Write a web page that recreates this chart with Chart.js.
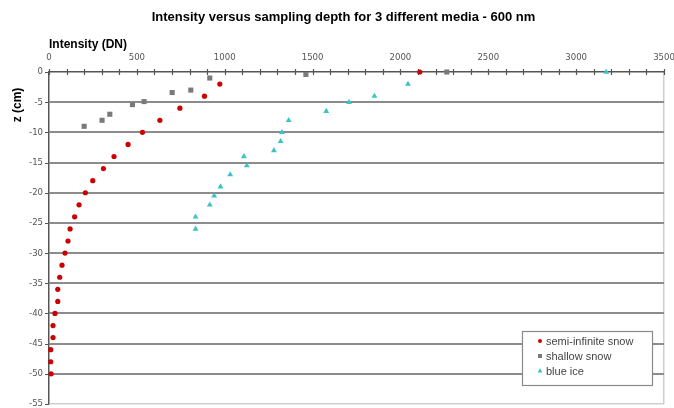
<!DOCTYPE html>
<html>
<head>
<meta charset="utf-8">
<script src="https://cdn.jsdelivr.net/npm/chart.js@4/dist/chart.umd.min.js"></script>
<style>
  html, body { margin: 0; padding: 0; background: #ffffff; }
  #wrap { width: 674px; height: 408px; position: relative; }
</style>
</head>
<body>
<div id="wrap"><canvas id="chart" width="674" height="408"></canvas></div>
<script>
// Sampling depth z (cm) and measured intensity (DN) for each medium
const depthSemiInfinite = [0, -2, -4, -6, -8, -10, -12, -14, -16, -18, -20, -22, -24, -26, -28, -30, -32, -34, -36, -38, -40, -42, -44, -46, -48, -50];
const intensitySemiInfinite = [2110, 972, 885, 745, 631, 532, 450, 370, 310, 249, 207, 171, 146, 120, 108, 91, 74, 61, 50, 50, 34, 23, 23, 10, 10, 12];

const depthShallow = [0, -0.4, -1, -3, -3.4, -4.9, -5.4, -7, -8, -9];
const intensityShallow = [2264, 1462, 915, 807, 701, 541, 475, 346, 302, 200];

const depthIce = [0, -2, -4, -5, -6.5, -8, -10, -11.5, -13, -14, -15.5, -17, -19, -20.5, -22, -24, -26];
const intensityIce = [3171, 2043, 1852, 1707, 1578, 1364, 1326, 1318, 1280, 1109, 1126, 1031, 976, 940, 915, 834, 834];

const seriesNames = ['semi-infinite snow', 'shallow snow', 'blue ice'];
const chartTitle = 'Intensity versus sampling depth for 3 different media - 600 nm';
const xTitle = 'Intensity (DN)';
const yTitle = 'z (cm)';

// axis ranges and tick steps
const xMin = 0, xMax = 3500, xMajorStep = 500, xMinorStep = 100;
const yMin = -55, yMax = 0, yStep = 5;

function pairs(xs, ys) {
  return xs.map((x, i) => ({ x: x, y: ys[i] }));
}

const tickFont = { family: "'Liberation Sans Narrow', 'DejaVu Sans Condensed', 'Liberation Sans', Arial, sans-serif", size: 9.5 };

// Title, rotated y-axis title, axis tick marks and the boxed legend
const decorations = {
  id: 'decorations',
  beforeDatasetsDraw(chart) {
    const ctx = chart.ctx;
    const xs = chart.scales.x, ys = chart.scales.y;
    const y0 = ys.getPixelForValue(0);
    const x0 = xs.getPixelForValue(0);
    ctx.save();
    ctx.strokeStyle = '#555555';
    ctx.lineWidth = 1.2;
    ctx.beginPath();
    for (let v = xMin; v <= xMax; v += xMinorStep) {
      const px = Math.round(xs.getPixelForValue(v)) + 0.5;
      ctx.moveTo(px, y0 - 3);
      ctx.lineTo(px, y0 + 3);
    }
    for (let v = yMax; v >= yMin; v -= yStep) {
      const py = Math.round(ys.getPixelForValue(v)) + 0.5;
      ctx.moveTo(x0 - 4, py);
      ctx.lineTo(x0, py);
    }
    ctx.stroke();
    ctx.restore();
  },
  afterDatasetsDraw(chart) {
    const ctx = chart.ctx;
    const area = chart.chartArea;
    ctx.save();
    // chart title
    ctx.fillStyle = '#000000';
    ctx.font = "bold 13px 'Liberation Sans', Arial, sans-serif";
    ctx.textAlign = 'center';
    ctx.textBaseline = 'middle';
    ctx.fillText(chartTitle, 343.5, 17);
    // y-axis title
    ctx.save();
    ctx.translate(18, 105);
    ctx.rotate(-Math.PI / 2);
    ctx.font = "bold 12px 'Liberation Sans', Arial, sans-serif";
    ctx.fillText(yTitle, 0, 0);
    ctx.restore();

    // legend
    const lx = area.right - 142, ly = area.bottom - 73, lw = 130, lh = 54;
    ctx.fillStyle = '#ffffff';
    ctx.fillRect(lx, ly, lw, lh);
    ctx.strokeStyle = '#8a8a8a';
    ctx.lineWidth = 1.2;
    ctx.strokeRect(lx + 0.5, ly + 0.5, lw, lh);
    ctx.font = "11px 'Liberation Sans', Arial, sans-serif";
    ctx.textAlign = 'left';
    chart.data.datasets.forEach((ds, i) => {
      const ry = ly + 10 + i * 15;
      ctx.fillStyle = ds.backgroundColor;
      Chart.helpers.drawPoint(ctx, { pointStyle: ds.pointStyle, radius: ds.pointStyle === 'circle' ? 2 : 2.8, rotation: 0, borderWidth: 0 }, lx + 18, ry);
      ctx.fillStyle = '#444444';
      ctx.fillText(ds.label, lx + 24, ry + 1);
    });
    ctx.restore();
  }
};

new Chart(document.getElementById('chart'), {
  type: 'scatter',
  data: {
    datasets: [
      {
        label: seriesNames[0],
        data: pairs(intensitySemiInfinite, depthSemiInfinite),
        pointStyle: 'circle',
        pointRadius: 2.6,
        backgroundColor: '#cc0000',
        borderColor: '#cc0000',
        borderWidth: 0,
        clip: false
      },
      {
        label: seriesNames[1],
        data: pairs(intensityShallow, depthShallow),
        pointStyle: 'rect',
        pointRadius: 3.6,
        backgroundColor: '#7a7a7a',
        borderColor: '#7a7a7a',
        borderWidth: 0,
        clip: false
      },
      {
        label: seriesNames[2],
        data: pairs(intensityIce, depthIce),
        pointStyle: 'triangle',
        pointRadius: 3.4,
        backgroundColor: '#3cc3c3',
        borderColor: '#3cc3c3',
        borderWidth: 0,
        clip: false
      }
    ]
  },
  options: {
    responsive: false,
    animation: false,
    layout: { padding: { top: 37, left: 0, right: 10, bottom: 3 } },
    plugins: {
      legend: { display: false },
      title: { display: false },
      tooltip: { enabled: false }
    },
    scales: {
      x: {
        type: 'linear',
        position: 'top',
        min: xMin,
        max: xMax,
        ticks: {
          stepSize: xMajorStep,
          font: tickFont,
          color: '#555555',
          padding: 9,
          maxRotation: 0,
          callback: (v) => String(v)
        },
        grid: {
          drawTicks: false,
          color: (c) => (c.tick && c.tick.value === xMax ? '#cfcfcf' : 'rgba(0,0,0,0)'),
          lineWidth: 1.5
        },
        border: { display: true, color: '#555555', width: 1.5 },
        title: {
          display: true,
          text: xTitle,
          align: 'start',
          color: '#000000',
          font: { family: "'Liberation Sans', Arial, sans-serif", size: 12, weight: 'bold' },
          padding: { top: 0, bottom: 0 }
        },
        afterFit(scale) {
          scale.height = 35;
          scale.paddingLeft = 0;
          scale.paddingRight = 0;
        }
      },
      y: {
        type: 'linear',
        min: yMin,
        max: yMax,
        ticks: {
          stepSize: yStep,
          font: tickFont,
          color: '#555555',
          padding: 6,
          callback: (v) => String(v)
        },
        grid: {
          drawTicks: false,
          color: (c) => {
            if (!c.tick) return 'rgba(0,0,0,0)';
            if (c.tick.value === yMax) return 'rgba(0,0,0,0)';
            if (c.tick.value === yMin) return '#cfcfcf';
            return '#8c8c8c';
          },
          lineWidth: (c) => (c.tick && c.tick.value === yMin ? 1.5 : 2)
        },
        border: { display: true, color: '#555555', width: 1.5 },
        afterFit(scale) {
          scale.width = 49;
          scale.paddingTop = 0;
          scale.paddingBottom = 0;
        }
      }
    }
  },
  plugins: [decorations]
});
</script>
</body>
</html>
